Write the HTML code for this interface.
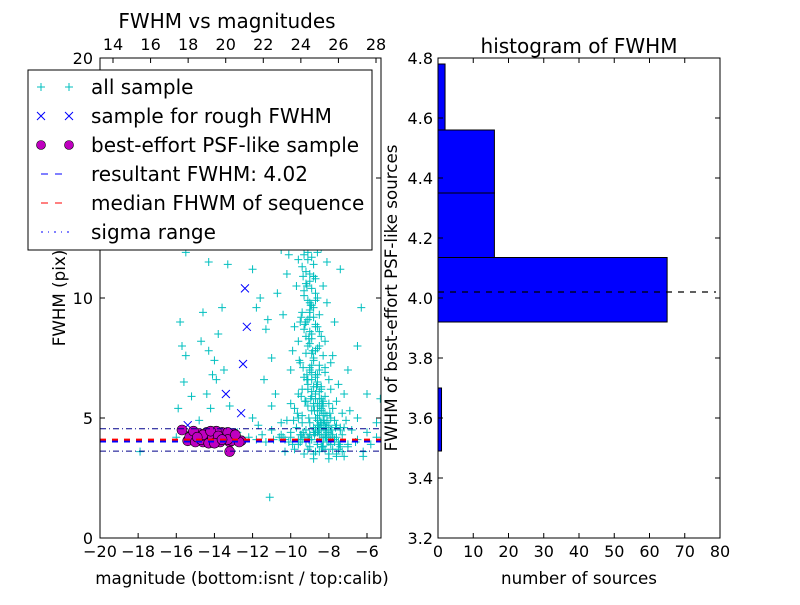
<!DOCTYPE html>
<html><head><meta charset="utf-8"><style>
body{margin:0;background:#fff;}
svg{font-family:"DejaVu Sans","Liberation Sans",sans-serif;}
</style></head><body>
<svg id="c" width="800" height="600"></svg>
<script>
// ---- data ----
const allMag=[-15.8,-15.7,-15.5,-15.6,-15.2,-14.6,-14.7,-14.3,-14.0,-14.1,-13.9,-14.4,-14.2,-13.6,-13.8,-13.5,-13.2,-15.5,-14.3,-13.6,-13.3,-12.0,-11.6,-11.2,-11.0,-11.4,-10.8,-11.0,-12.0,-11.7,-11.0,-10.5,-11.1,-15.9,-14.8,-16.0,-17.9,-11.5,-10.5,-10.2,-10.7,-11.3,-11.8,-10.4,-6.8,-7.4,-6.3,-7.7,-6.5,-6.0,-5.3,-6.2,-7.6,-8.0,-5.5,-6.5,-7.8,-7.0,-13,-9.5,-8,
-9.2,-9.0,-8.9,-9.3,-9.1,-8.8,-9.4,-9.0,-8.7,-9.2,-8.9,-9.3,-8.6,-9.0,-8.8,-9.4,-8.5,-9.1,-8.7,-9.3,-8.9,-8.4,-9.6,-9.0,-8.6,-9.2,-8.3,-8.8,-9.5,-8.5,-9.0,-8.2,-8.7,-9.3,-8.0,-8.6,-9.1,-8.4,-7.9,-8.9,-9.6,-8.2,-8.7,-7.6,-9.2,-8.0,-8.5,-9.8,-7.8,-8.9,-7.3,-8.3,-9.4,-7.9,-8.6,-10.2,-7.1,-8.1,-9.0,-7.6,-8.4,-9.7,-6.8,-8.0,-8.8,-10.5,-7.3,-9.3,-8.2,-6.5,-10.9,-7.7,-8.6,-9.9,-7.0,-8.3,-9.1,-7.5,-10.3,-6.2,-8.0,-8.8,-7.2,-11.3,-11.8,-12.2,-6.0,-5.5,-5.8,
-9.5,-9.7,-9.8,-9.9,-10.0,-9.4,-9.6,-10.0,-8.1,-8.2,-7.9,-7.5,-7.2,-7.4,-6.9,-8.0,-8.5,-9.2,-9.5,-7.8,-8.7,-9.0,-8.3,-8.9,-9.2,-8.5,-9.0,-8.7,-9.3,-8.6,-9.6,-9.8,-10.1,-8.4,
-8.4,-8.8,-9.1,-8.6,-8.2,-8.9,-8.5,-8.7,-9.0,-8.3,-8.8,-8.6,-8.1,-8.4,-8.9,-8.6,-8.2,-7.7,-8.5,-9.1,-7.4,-8.0,-8.8,-8.3,-7.9,-9.4,-10.6,-11.5,-12.5,-12.8,-10.0,-9.6,-7.0,-6.6,
-9.0,-9.1,-8.9,-9.2,-8.8,-9.0,-9.3,-8.7,-9.1,-8.9,-9.0,-8.8,-9.2,-8.6,-9.0,-8.9,-9.1,-8.7,-8.8,-9.0,-8.5,-8.9,-8.7,-9.1,-8.6,-8.8,-8.4,-8.7,-8.9,-8.5,-8.6,-8.3,-8.8,-8.4,-8.6,-8.2,-8.5,-8.7,-8.3,-8.1,-8.4,-8.6,-8.0,-8.3,-8.5,-7.9,-8.2,-8.7,-8.1,-7.8,-8.4,-9.0,-8.0,-7.6,-8.3,-8.9,-7.7,-9.4,-8.1,-7.5,-9.2,-8.6,-7.9,-9.6,-8.4,-7.4,-9.0,-8.2,-7.8,-9.8,-8.5,-7.3,-8.8,-9.3,-8.0,-7.6,-10.0,-8.7,-7.2,-9.1,-8.3,-9.5,-7.9,-10.4,-8.6,-9.0,-7.4,-9.7,-8.1,
-9.35,-9.15,-8.95,-9.45,-9.25,-9.05,-8.85,-9.55,-9.35,-9.15,-8.65,-9.45,-9.25,-8.75,-9.05,-8.55,-9.35,-8.45,-9.15,-8.35,-8.95,-9.65,-8.25,-8.75,-9.85,-8.15,-8.55,-7.95,-9.05,-10.1,-7.85,-8.35,-9.45,-7.65,-8.15,-10.3,-7.45,-8.85,-9.75,-7.25];
const allFwhm=[9.0,8.0,7.6,6.5,5.9,9.4,8.2,7.8,7.4,6.8,6.6,6.0,5.4,9.6,8.5,7.0,5.5,11.9,11.5,12.3,11.4,11.2,10.0,9.1,7.5,6.6,6.0,5.5,5.0,4.7,4.5,4.8,1.7,5.4,4.9,4.2,3.6,12.5,12.0,11.0,10.2,8.7,9.6,9.3,12.3,11.2,9.6,9.0,8.0,6.0,5.8,3.4,3.5,3.3,4.8,5.0,7.6,7.0,12.8,12.9,12.9,
13.0,12.6,12.2,12.0,11.6,11.4,11.3,11.0,10.8,10.6,10.4,10.1,10.0,9.8,9.6,9.4,9.3,9.1,8.9,8.7,8.5,8.4,8.2,8.1,7.9,7.7,7.6,7.5,7.3,7.2,7.0,6.9,6.8,6.7,6.6,6.5,6.4,6.3,6.2,6.1,6.0,5.9,5.8,5.7,5.7,5.6,5.5,5.4,5.4,5.3,5.2,5.2,5.1,5.0,5.0,4.9,4.9,4.8,4.8,4.7,4.6,4.6,4.5,4.5,4.4,4.3,4.3,4.2,4.2,4.1,4.1,4.0,4.0,3.9,3.9,3.8,3.7,3.7,3.6,3.6,3.5,3.3,3.4,4.0,4.1,4.2,4.4,4.2,3.9,
9.0,10.5,8.8,7.8,7.0,6.2,5.0,5.6,9.8,8.2,7.3,6.4,6.0,4.6,5.3,4.0,4.3,4.5,4.0,4.2,3.6,4.1,5.7,7.2,8.4,8.6,9.4,9.9,11.8,11.9,11.6,12.2,11.8,12.1,
5.3,5.6,6.2,6.8,7.1,7.7,8.0,8.8,9.2,10.5,10.9,4.9,5.1,5.8,6.6,4.4,4.7,4.9,6.1,5.5,4.5,4.3,4.6,4.0,4.1,4.8,4.2,4.3,4.1,4.4,4.2,4.1,3.8,4.0,
12.4,11.9,11.7,11.1,10.9,10.7,10.3,10.2,9.9,9.7,9.5,9.2,9.0,8.8,8.6,8.3,8.0,7.8,7.4,7.1,7.0,6.9,6.7,6.6,6.4,6.3,6.2,6.0,5.9,5.8,5.6,5.5,5.5,5.4,5.3,5.2,5.1,5.0,4.9,4.9,4.8,4.7,4.7,4.6,4.6,4.5,4.5,4.4,4.4,4.3,4.3,4.3,4.2,4.2,4.2,4.1,4.1,4.1,4.0,4.0,4.0,3.9,3.9,3.9,3.8,3.8,3.8,3.7,3.7,3.7,3.6,3.6,3.5,3.5,3.5,3.4,4.4,4.5,4.6,4.2,4.0,4.3,4.1,4.2,4.4,4.3,
12.7,12.3,11.5,10.9,10.5,9.7,9.2,8.9,8.3,7.8,7.4,7.1,6.6,6.3,5.9,5.7,5.3,5.0,4.7,4.4,4.8,6.8,5.6,5.8,5.2,4.9,4.3,4.9,4.6,4.5,5.2,4.1,4.0,4.5,3.8,4.3,4.6,4.2,4.1,3.9];
const roughMag=[-12.4,-12.3,-12.5,-13.4,-12.6,-15.4];
const roughFwhm=[10.4,8.8,7.25,6.0,5.2,4.7];
const bestMag=[-15.7,-15.4,-15.2,-15.0,-14.8,-14.6,-14.4,-14.2,-14.0,-13.8,-13.6,-13.4,-13.2,-13.0,-12.8,-12.6,-15.3,-15.0,-14.7,-14.5,-14.3,-14.1,-13.9,-13.7,-13.5,-13.3,-13.1,-12.9,-12.7,-15.1,-14.6,-14.2,-13.8,-13.3,-13.2,-14.9,-14.0,-13.6,-12.9];
const bestFwhm=[4.5,4.05,4.3,4.1,4.35,4.0,4.4,4.1,4.3,4.05,4.4,4.2,4.0,4.35,4.1,4.05,4.2,4.0,4.1,4.25,3.95,4.2,4.45,4.0,4.15,4.4,4.05,4.2,4.0,4.45,4.3,4.45,4.25,4.1,3.6,4.2,3.95,4.1,4.3];
const resultFwhm=4.02, medianFwhm=4.1, sigLo=3.62, sigHi=4.55;
const binEdges=[3.49,3.70,3.92,4.135,4.35,4.56,4.78];
const binCounts=[1,0,65,16,16,2];
const xTicksL=[-20,-18,-16,-14,-12,-10,-8,-6];
const xTicksTop=[14,16,18,20,22,24,26,28];
const yTicksL=[0,5,10,15,20];
const xTicksR=[0,10,20,30,40,50,60,70,80];
const yTicksR=[3.2,3.4,3.6,3.8,4.0,4.2,4.4,4.6,4.8];

// ---- scales ----
const xL=v=>100+(v+20)*(267/14);
const xTop=v=>113+(v-14)*(263/14);
const yL=v=>538-v*24;
const xR=v=>438+v*(282/80);
const yR=v=>538-(v-3.2)*300;

const svg=document.getElementById('c');
const NS='http://www.w3.org/2000/svg';
function mk(tag,at,parent){const e=document.createElementNS(NS,tag);for(const k in at)e.setAttribute(k,at[k]);(parent||svg).appendChild(e);return e;}
function txt(s,x,y,at,parent){const e=mk('text',Object.assign({x:x,y:y,'font-size':16,fill:'#000'},at||{}),parent);e.textContent=s;return e;}

const defs=mk('defs',{});
const cp=mk('clipPath',{id:'clipL'},defs);mk('rect',{x:100,y:58,width:281,height:480},cp);
const cp2=mk('clipPath',{id:'clipR'},defs);mk('rect',{x:438,y:58,width:282,height:480},cp2);

// left plot
const gL=mk('g',{'clip-path':'url(#clipL)'});


const gA=mk('g',{stroke:'#00bfbf','stroke-width':1},gL);


for(let i=0;i<allMag.length;i++){const x=xL(allMag[i]),y=yL(allFwhm[i]);
 const p=mk('path',{d:`M${x-4},${y}H${x+4}M${x},${y-4}V${y+4}`},gA);
 
 }
const gRo=mk('g',{stroke:'#0000ff','stroke-width':1},gL);


for(let i=0;i<roughMag.length;i++){const x=xL(roughMag[i]),y=yL(roughFwhm[i]);
 const p=mk('path',{d:`M${x-4},${y-4}L${x+4},${y+4}M${x-4},${y+4}L${x+4},${y-4}`},gRo);
 
 }
const gB=mk('g',{fill:'#bf00bf',stroke:'#000','stroke-width':0.6},gL);


for(let i=0;i<bestMag.length;i++){
 const c=mk('circle',{cx:xL(bestMag[i]),cy:yL(bestFwhm[i]),r:5},gB);
 
 }
let l;
l=mk('line',{x1:100,x2:381,y1:yL(resultFwhm),y2:yL(resultFwhm),stroke:'#0000ff','stroke-width':2,'stroke-dasharray':'6,6'},gL);

l=mk('line',{x1:100,x2:381,y1:yL(medianFwhm),y2:yL(medianFwhm),stroke:'#ff0000','stroke-width':2,'stroke-dasharray':'6,6'},gL);

for(const v of [sigLo,sigHi]){l=mk('line',{x1:100,x2:381,y1:yL(v),y2:yL(v),stroke:'#00008b','stroke-width':1,'stroke-dasharray':'6,3,1,3'},gL);
}

// left axes frame & ticks
mk('rect',{x:100,y:58,width:281,height:480,fill:'none',stroke:'#000','stroke-width':1});
for(const v of xTicksL){const x=xL(v);mk('path',{d:`M${x},538v-5`,stroke:'#000'});
 const t=txt(v<0?'\u2212'+(-v):String(v),x,557,{'text-anchor':'middle'});}
for(const v of yTicksL){const y=yL(v);mk('path',{d:`M100,${y}h5M381,${y}h-5`,stroke:'#000'});
 const t=txt(String(v),93,y+6,{'text-anchor':'end'});}
for(const v of xTicksTop){const x=xTop(v);mk('path',{d:`M${x},58v5`,stroke:'#000'});
 const t=txt(String(v),x,50,{'text-anchor':'middle'});}
let t;
t=txt('FWHM vs magnitudes',227,28,{'text-anchor':'middle','font-size':20});
t=txt('magnitude (bottom:isnt / top:calib)',242,584,{'text-anchor':'middle','font-size':16.7});
t=txt('FWHM (pix)',65,298,{'text-anchor':'middle','font-size':16.7,transform:'rotate(-90 65 298)'});

// legend
const lg=mk('g',{});

mk('rect',{x:28,y:70,width:344,height:180,fill:'#fff',stroke:'#000'},lg);
const ly=[87,116,145,174,203,232];
const labs=['all sample','sample for rough FWHM','best-effort PSF-like sample','resultant FWHM: 4.02','median FHWM of sequence','sigma range'];
for(let i=0;i<6;i++){const y=ly[i];
 const e=mk('g',{},lg);
 if(i==0){for(const x of [41,69])mk('path',{d:`M${x-4},${y}h8M${x},${y-4}v8`,stroke:'#00bfbf'},e);}
 if(i==1){for(const x of [41,69])mk('path',{d:`M${x-4},${y-4}l8,8M${x-4},${y+4}l8,-8`,stroke:'#0000ff'},e);}
 if(i==2){for(const x of [41,69])mk('circle',{cx:x,cy:y,r:4.5,fill:'#bf00bf',stroke:'#000','stroke-width':0.6},e);}
 if(i==3)mk('line',{x1:41,x2:69,y1:y,y2:y,stroke:'#0000ff','stroke-dasharray':'7,7'},e);
 if(i==4)mk('line',{x1:41,x2:69,y1:y,y2:y,stroke:'#ff0000','stroke-dasharray':'7,7'},e);
 if(i==5)mk('line',{x1:41,x2:69,y1:y,y2:y,stroke:'#0000ff','stroke-dasharray':'2,5,1,5'},e);
 txt(labs[i],91,y+7,{'font-size':20},e);}

// right histogram
const gH=mk('g',{'clip-path':'url(#clipR)'});

for(let i=0;i<binCounts.length;i++){if(!binCounts[i])continue;
 const y0=yR(binEdges[i]),y1=yR(binEdges[i+1]);
 const r=mk('rect',{x:xR(0),y:y1,width:xR(binCounts[i])-xR(0),height:y0-y1,fill:'#0000ff',stroke:'#000','stroke-width':1},gH);
 }
l=mk('line',{x1:438,x2:716,y1:yR(resultFwhm),y2:yR(resultFwhm),stroke:'#000','stroke-width':1.3,'stroke-dasharray':'6,6'});

mk('rect',{x:438,y:58,width:282,height:480,fill:'none',stroke:'#000'});
for(const v of xTicksR){const x=xR(v);mk('path',{d:`M${x},538v-5M${x},58v5`,stroke:'#000'});
 t=txt(String(v),x,557,{'text-anchor':'middle'});}
for(const v of yTicksR){const y=yR(v);mk('path',{d:`M438,${y}h5M720,${y}h-5`,stroke:'#000'});
 t=txt(v.toFixed(1),433,y+6,{'text-anchor':'end'});}
t=txt('histogram of FWHM',579,53,{'text-anchor':'middle','font-size':20});
t=txt('number of sources',579,584,{'text-anchor':'middle','font-size':16.7});
t=txt('FWHM of best-effort PSF-like sources',397,298,{'text-anchor':'middle','font-size':16.7,transform:'rotate(-90 397 298)'});
</script>
</body></html>
